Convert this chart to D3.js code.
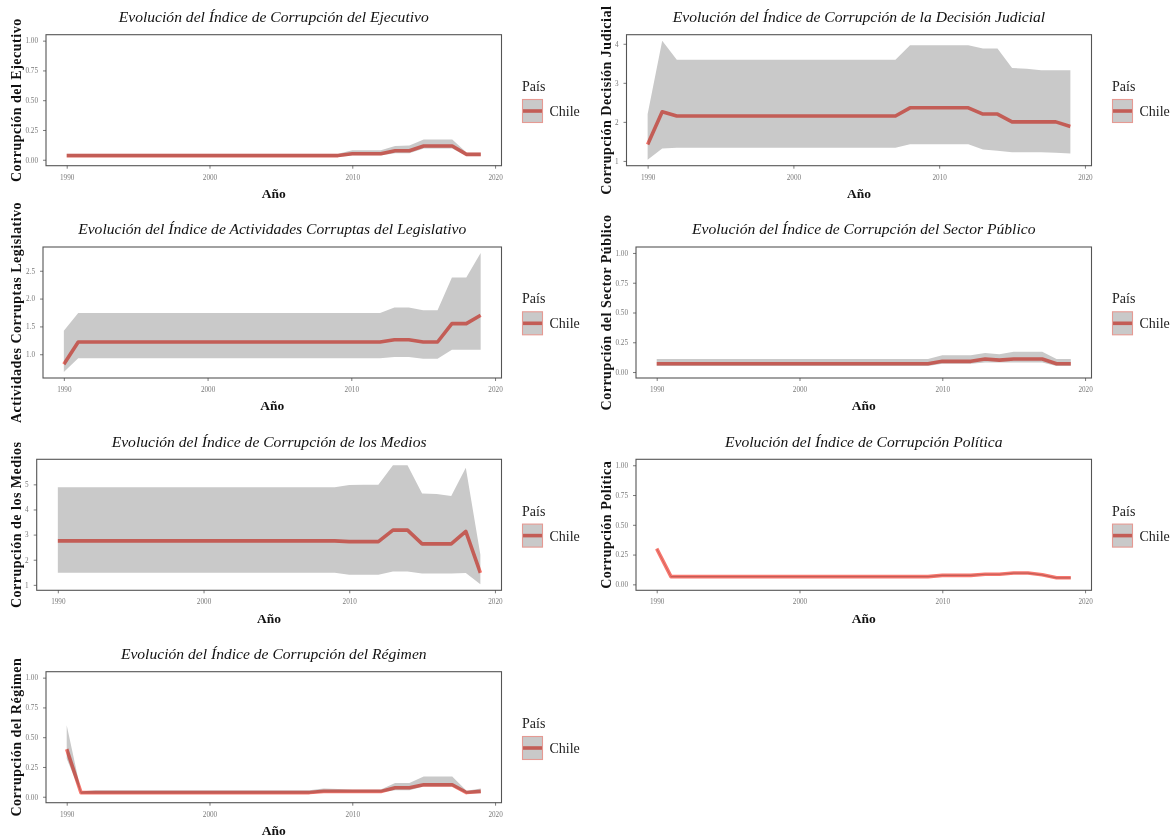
<!DOCTYPE html>
<html><head><meta charset="utf-8">
<script src="https://cdn.jsdelivr.net/npm/d3@7"></script>
<style>body{margin:0;background:#fff}svg{display:block}</style>
</head><body><svg id="c" width="1174" height="838"></svg>
<script>
// ---------- DATA ----------
const years = [1990,1991,1992,1993,1994,1995,1996,1997,1998,1999,2000,2001,2002,2003,2004,2005,2006,2007,2008,2009,2010,2011,2012,2013,2014,2015,2016,2017,2018,2019];
const xTicks = [1990, 2000, 2010, 2020];
const countries = ["Chile"];

// Ejecutivo
const ejecLine  = [0.035,0.035,0.035,0.035,0.035,0.035,0.035,0.035,0.035,0.035,0.035,0.035,0.035,0.035,0.035,0.035,0.035,0.035,0.035,0.035,0.05,0.05,0.05,0.075,0.075,0.115,0.115,0.115,0.045,0.045];
const ejecUpper = [0.05,0.05,0.05,0.05,0.05,0.05,0.05,0.05,0.05,0.05,0.05,0.05,0.05,0.05,0.05,0.05,0.05,0.05,0.05,0.05,0.08,0.08,0.08,0.115,0.12,0.17,0.17,0.17,0.06,0.06];
const ejecLower = [0.02,0.02,0.02,0.02,0.02,0.02,0.02,0.02,0.02,0.02,0.02,0.02,0.02,0.02,0.02,0.02,0.02,0.02,0.02,0.02,0.035,0.035,0.035,0.055,0.055,0.095,0.095,0.095,0.03,0.03];

// Decisión Judicial
const judLine  = [1.42,2.26,2.15,2.15,2.15,2.15,2.15,2.15,2.15,2.15,2.15,2.15,2.15,2.15,2.15,2.15,2.15,2.15,2.36,2.36,2.36,2.36,2.36,2.2,2.2,2.0,2.0,2.0,2.0,1.88];
const judUpper = [2.2,4.08,3.59,3.59,3.59,3.59,3.59,3.59,3.59,3.59,3.59,3.59,3.59,3.59,3.59,3.59,3.59,3.59,3.96,3.96,3.96,3.96,3.96,3.88,3.88,3.38,3.36,3.32,3.32,3.32];
const judLower = [1.03,1.32,1.34,1.34,1.34,1.34,1.34,1.34,1.34,1.34,1.34,1.34,1.34,1.34,1.34,1.34,1.34,1.34,1.43,1.43,1.43,1.43,1.43,1.29,1.26,1.22,1.22,1.22,1.21,1.19];

// Legislativo
const legLine  = [0.82,1.22,1.22,1.22,1.22,1.22,1.22,1.22,1.22,1.22,1.22,1.22,1.22,1.22,1.22,1.22,1.22,1.22,1.22,1.22,1.22,1.22,1.22,1.26,1.26,1.22,1.22,1.55,1.55,1.70];
const legUpper = [1.42,1.74,1.74,1.74,1.74,1.74,1.74,1.74,1.74,1.74,1.74,1.74,1.74,1.74,1.74,1.74,1.74,1.74,1.74,1.74,1.74,1.74,1.74,1.84,1.84,1.79,1.79,2.38,2.38,2.82];
const legLower = [0.68,0.93,0.93,0.93,0.93,0.93,0.93,0.93,0.93,0.93,0.93,0.93,0.93,0.93,0.93,0.93,0.93,0.93,0.93,0.93,0.93,0.93,0.93,0.95,0.95,0.92,0.92,1.08,1.08,1.08];

// Sector Público
const pubLine  = [0.07,0.07,0.07,0.07,0.07,0.07,0.07,0.07,0.07,0.07,0.07,0.07,0.07,0.07,0.07,0.07,0.07,0.07,0.07,0.07,0.09,0.09,0.09,0.11,0.10,0.11,0.11,0.11,0.07,0.07];
const pubUpper = [0.11,0.11,0.11,0.11,0.11,0.11,0.11,0.11,0.11,0.11,0.11,0.11,0.11,0.11,0.11,0.11,0.11,0.11,0.11,0.11,0.14,0.14,0.14,0.16,0.15,0.17,0.17,0.17,0.11,0.11];
const pubLower = [0.05,0.05,0.05,0.05,0.05,0.05,0.05,0.05,0.05,0.05,0.05,0.05,0.05,0.05,0.05,0.05,0.05,0.05,0.05,0.05,0.07,0.07,0.07,0.08,0.08,0.08,0.08,0.08,0.05,0.05];

// Medios
const medLine  = [2.75,2.75,2.75,2.75,2.75,2.75,2.75,2.75,2.75,2.75,2.75,2.75,2.75,2.75,2.75,2.75,2.75,2.75,2.75,2.75,2.72,2.72,2.72,3.18,3.18,2.63,2.63,2.63,3.13,1.48];
const medUpper = [4.88,4.88,4.88,4.88,4.88,4.88,4.88,4.88,4.88,4.88,4.88,4.88,4.88,4.88,4.88,4.88,4.88,4.88,4.88,4.88,4.97,4.98,4.98,5.76,5.76,4.64,4.62,4.54,5.66,2.2];
const medLower = [1.48,1.48,1.48,1.48,1.48,1.48,1.48,1.48,1.48,1.48,1.48,1.48,1.48,1.48,1.48,1.48,1.48,1.48,1.48,1.48,1.40,1.40,1.40,1.53,1.53,1.45,1.45,1.45,1.47,1.02];

// Política
const polLine  = [0.30,0.065,0.065,0.065,0.065,0.065,0.065,0.065,0.065,0.065,0.065,0.065,0.065,0.065,0.065,0.065,0.065,0.065,0.065,0.065,0.075,0.075,0.075,0.085,0.085,0.095,0.095,0.08,0.055,0.055];
const polUpper = [0.305,0.07,0.07,0.07,0.07,0.07,0.07,0.07,0.07,0.07,0.07,0.07,0.07,0.07,0.07,0.07,0.07,0.07,0.07,0.07,0.08,0.08,0.08,0.09,0.09,0.10,0.10,0.085,0.06,0.06];
const polLower = [0.295,0.06,0.06,0.06,0.06,0.06,0.06,0.06,0.06,0.06,0.06,0.06,0.06,0.06,0.06,0.06,0.06,0.06,0.06,0.06,0.07,0.07,0.07,0.08,0.08,0.09,0.09,0.075,0.05,0.05];

// Régimen
const regLine  = [0.40,0.035,0.035,0.035,0.035,0.035,0.035,0.035,0.035,0.035,0.035,0.035,0.035,0.035,0.035,0.035,0.035,0.035,0.045,0.045,0.045,0.045,0.045,0.075,0.075,0.10,0.10,0.10,0.035,0.045];
const regUpper = [0.60,0.045,0.055,0.055,0.055,0.055,0.055,0.055,0.055,0.055,0.055,0.055,0.055,0.055,0.055,0.055,0.055,0.055,0.07,0.065,0.06,0.06,0.06,0.115,0.115,0.17,0.17,0.17,0.05,0.07];
const regLower = [0.32,0.025,0.025,0.025,0.025,0.025,0.025,0.025,0.025,0.025,0.025,0.025,0.025,0.025,0.025,0.025,0.025,0.025,0.035,0.035,0.035,0.035,0.035,0.055,0.055,0.085,0.085,0.085,0.025,0.03];

const ticks01 = [0, 0.25, 0.5, 0.75, 1];

const panels = [
  {title:"Evolución del Índice de Corrupción del Ejecutivo", ytitle:"Corrupción del Ejecutivo", line:ejecLine, upper:ejecUpper, lower:ejecLower, fixed:[0,1], yticks:ticks01, fmt:".2f", col:0, row:0, left:46},
  {title:"Evolución del Índice de Corrupción de la Decisión Judicial", ytitle:"Corrupción Decisión Judicial", line:judLine, upper:judUpper, lower:judLower, fixed:null, yticks:[1,2,3,4], fmt:"d", col:1, row:0, left:36.5},
  {title:"Evolución del Índice de Actividades Corruptas del Legislativo", ytitle:"Actividades Corruptas Legislativo", line:legLine, upper:legUpper, lower:legLower, fixed:null, yticks:[1,1.5,2,2.5], fmt:".1f", col:0, row:1, left:43},
  {title:"Evolución del Índice de Corrupción del Sector Público", ytitle:"Corrupción del Sector Público", line:pubLine, upper:pubUpper, lower:pubLower, fixed:[0,1], yticks:ticks01, fmt:".2f", col:1, row:1, left:46},
  {title:"Evolución del Índice de Corrupción de los Medios", ytitle:"Corrupción de los Medios", line:medLine, upper:medUpper, lower:medLower, fixed:null, yticks:[1,2,3,4,5], fmt:"d", col:0, row:2, left:36.7},
  {title:"Evolución del Índice de Corrupción Política", ytitle:"Corrupción Política", line:polLine, upper:polUpper, lower:polLower, fixed:[0,1], yticks:ticks01, fmt:".2f", col:1, row:2, left:46},
  {title:"Evolución del Índice de Corrupción del Régimen", ytitle:"Corrupción del Régimen", line:regLine, upper:regUpper, lower:regLower, fixed:[0,1], yticks:ticks01, fmt:".2f", col:0, row:3, left:46}
];

// ---------- DRAW ----------
const svg = d3.select("#c");
svg.append("rect").attr("width",1174).attr("height",838).attr("fill","#fff");
const colX = [0, 590];
const rowY = [0, 212.3, 424.6, 637];
const SERIF = "'Liberation Serif','Times New Roman',serif";
const LINE_COL = "#f8766d";
const RIBBON = "#c9c9c9";

panels.forEach(p => {
  const ox = colX[p.col], oy = rowY[p.row];
  const x0 = ox + p.left, x1 = ox + 501.5, y0 = oy + 34.7, y1 = oy + 165.7;
  let dom;
  if (p.fixed) dom = p.fixed.slice();
  else dom = [d3.min(p.lower), d3.max(p.upper)];
  const pad = (dom[1]-dom[0])*0.05;
  const x = d3.scaleLinear().domain([1990 - 29*0.05, 2019 + 29*0.05]).range([x0, x1]);
  const y = d3.scaleLinear().domain([dom[0]-pad, dom[1]+pad]).range([y1, y0]);
  const g = svg.append("g");
  const rows = years.map((yr,i)=>({yr, v:p.line[i], lo:p.lower[i], hi:p.upper[i]}));

  // line first, ribbon multiplied on top
  g.append("path").datum(rows)
    .attr("d", d3.line().x(d=>x(d.yr)).y(d=>y(d.v)))
    .attr("fill","none").attr("stroke",LINE_COL).attr("stroke-width",3.6)
    .attr("stroke-linejoin","round");
  g.append("path").datum(rows)
    .attr("d", d3.area().x(d=>x(d.yr)).y0(d=>y(d.lo)).y1(d=>y(d.hi)))
    .attr("fill",RIBBON).style("mix-blend-mode","multiply");

  // box
  g.append("rect").attr("x",x0).attr("y",y0).attr("width",x1-x0).attr("height",y1-y0)
    .attr("fill","none").attr("stroke","#555").attr("stroke-width",1.1);

  // axes
  const xa = g.append("g").attr("transform",`translate(0,${y1})`)
    .call(d3.axisBottom(x).tickValues(xTicks).tickFormat(d3.format("d")).tickSize(3).tickPadding(6));
  const ya = g.append("g").attr("transform",`translate(${x0},0)`)
    .call(d3.axisLeft(y).tickValues(p.yticks).tickFormat(d3.format(p.fmt)).tickSize(3).tickPadding(5));
  [xa, ya].forEach(a => {
    a.select(".domain").remove();
    a.selectAll("line").attr("stroke","#444").attr("stroke-width",0.7);
    a.selectAll("text").attr("font-family",SERIF).attr("font-size",7.2).attr("fill","#7a7a7a");
  });

  const cx = (x0+x1)/2, cy = (y0+y1)/2;
  g.append("text").text(p.title).attr("x",cx).attr("y",oy+22)
    .attr("text-anchor","middle").attr("font-family",SERIF).attr("font-style","italic")
    .attr("font-size",15.6).attr("fill","#111");
  g.append("text").text("Año").attr("x",cx).attr("y",oy+198)
    .attr("text-anchor","middle").attr("font-family",SERIF).attr("font-weight","bold")
    .attr("font-size",13.5).attr("fill","#111");
  g.append("text").text(p.ytitle)
    .attr("transform",`translate(${ox+16},${cy}) rotate(-90)`)
    .attr("text-anchor","middle").attr("dominant-baseline","central")
    .attr("font-family",SERIF).attr("font-weight","bold").attr("font-size",14)
    .attr("letter-spacing",0.5).attr("fill","#111");

  // legend
  const lx = ox + 522.5;
  const lg = g.append("g");
  lg.append("text").text("País").attr("x",lx-0.5).attr("y",oy+91)
    .attr("font-family",SERIF).attr("font-size",14).attr("fill","#222");
  countries.forEach((c,i) => {
    const ky = oy + 99.5 + i*24;
    lg.append("line").attr("x1",lx).attr("x2",lx+20).attr("y1",ky+11.5).attr("y2",ky+11.5)
      .attr("stroke",LINE_COL).attr("stroke-width",3.6);
    lg.append("rect").attr("x",lx).attr("y",ky).attr("width",20).attr("height",23)
      .attr("fill",RIBBON).style("mix-blend-mode","multiply");
    lg.append("rect").attr("x",lx).attr("y",ky).attr("width",20).attr("height",23)
      .attr("fill","none").attr("stroke","#e59a93").attr("stroke-width",1.1);
    lg.append("text").text(c).attr("x",lx+27).attr("y",ky+16.5)
      .attr("font-family",SERIF).attr("font-size",14).attr("fill","#222");
  });
});
</script>
</body></html>
